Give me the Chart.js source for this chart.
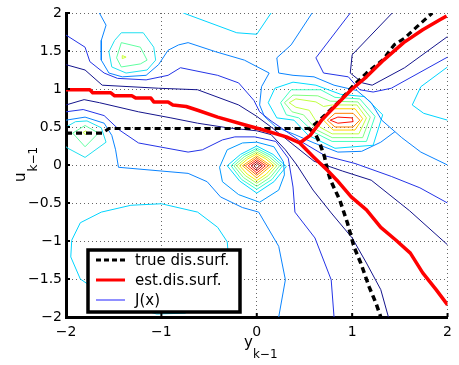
<!DOCTYPE html>
<html>
<head>
<meta charset="utf-8">
<script src="https://cdn.jsdelivr.net/npm/chart.js@4.4.1/dist/chart.umd.min.js"></script>
<style>
  html, body { margin: 0; padding: 0; background: #fff; }
  #wrap { width: 459px; height: 365px; }
</style>
</head>
<body>
<div id="wrap"><canvas id="chart" width="459" height="365"></canvas></div>
<script>
// ---- axis ticks ----
const xTickValues = [-2, -1, 0, 1, 2];
const yTickValues = [-2, -1.5, -1, -0.5, 0, 0.5, 1, 1.5, 2];

// ---- true discontinuity surface (dashed black) ----
const trueSurfUpper = [[-2, 0.42], [-1.62, 0.42], [-1.55, 0.48], [0.55, 0.48], [0.64, 0.57], [0.86, 0.83],
  [1.0, 1.03], [1.15, 1.21], [1.32, 1.38], [1.44, 1.58], [1.55, 1.67], [1.68, 1.82], [1.84, 2.0]];
const trueSurfLower = [[0.55, 0.48], [0.61, 0.42], [0.66, 0.29], [0.71, 0.11], [0.74, -0.07], [0.78, -0.22],
  [0.87, -0.46], [0.95, -0.76], [1.02, -1.08], [1.09, -1.29], [1.18, -1.61], [1.25, -1.82], [1.30, -2.0]];

// ---- estimated discontinuity surface (red) ----
const estSurfMain = [[-2, 0.99], [-1.75, 0.99], [-1.72, 0.95], [-1.53, 0.95], [-1.49, 0.91], [-1.31, 0.91],
  [-1.27, 0.88], [-1.11, 0.88], [-1.08, 0.83], [-0.93, 0.83], [-0.88, 0.79], [-0.74, 0.77], [-0.62, 0.72],
  [-0.41, 0.63], [-0.13, 0.53], [0.07, 0.46], [0.31, 0.37], [0.45, 0.29], [0.6, 0.1], [0.74, -0.07],
  [0.84, -0.2], [0.99, -0.42], [1.15, -0.59], [1.3, -0.82], [1.46, -0.99], [1.61, -1.16], [1.74, -1.42],
  [1.88, -1.64], [2.0, -1.84]];
const estSurfBranch = [[0.45, 0.29], [0.56, 0.39], [0.68, 0.59], [0.81, 0.76], [0.99, 0.99], [1.15, 1.16],
  [1.33, 1.38], [1.54, 1.61], [1.74, 1.78], [1.92, 1.91], [1.99, 1.96]];

// ---- J(x) contour lines ----
// peak at (0, 0)
const peakA1 = [[-0.03, -0.01], [0, 0.02], [0.03, -0.01], [0, -0.045], [-0.03, -0.01]];
const peakA2 = [[-0.06, -0.01], [0, 0.045], [0.06, -0.01], [0, -0.075], [-0.06, -0.01]];
const peakA3 = [[-0.09, -0.01], [0, 0.07], [0.09, -0.01], [0, -0.105], [-0.09, -0.01]];
const peakA4 = [[-0.12, -0.01], [0, 0.095], [0.12, -0.01], [0, -0.135], [-0.12, -0.01]];
const peakA5 = [[-0.15, -0.01], [0, 0.12], [0.15, -0.01], [0, -0.17], [-0.15, -0.01]];
const peakA6 = [[-0.18, -0.01], [-0.095, 0.08], [0, 0.145], [0.095, 0.08], [0.18, -0.01], [0.1, -0.12], [0, -0.205], [-0.1, -0.12], [-0.18, -0.01]];
const peakA7 = [[-0.21, -0.01], [-0.11, 0.095], [0, 0.17], [0.11, 0.095], [0.21, -0.01], [0.12, -0.14], [0, -0.24], [-0.12, -0.14], [-0.21, -0.01]];
const peakA8 = [[-0.24, -0.01], [-0.13, 0.11], [0, 0.195], [0.13, 0.11], [0.24, -0.01], [0.14, -0.165], [0, -0.28], [-0.14, -0.165], [-0.24, -0.01]];
const peakA9 = [[-0.27, -0.01], [-0.15, 0.125], [0, 0.22], [0.15, 0.125], [0.27, -0.01], [0.16, -0.19], [0, -0.32], [-0.16, -0.19], [-0.27, -0.01]];
const peakA10 = [[-0.31, -0.01], [-0.17, 0.14], [0, 0.25], [0.17, 0.14], [0.31, -0.02], [0.18, -0.22], [0, -0.37], [-0.18, -0.21], [-0.31, -0.01]];
const peakA11 = [[-0.39, -0.03], [-0.31, 0.2], [-0.15, 0.29], [0, 0.3], [0.18, 0.24], [0.28, 0.04], [0.29, -0.13],
  [0.23, -0.33], [0.03, -0.49], [-0.19, -0.39], [-0.36, -0.22], [-0.39, -0.03]];

// peak at (0.9, 0.6)
const peakB1 = [[0.77, 0.59], [0.85, 0.63], [1.0, 0.62], [1.01, 0.57], [0.85, 0.55], [0.77, 0.59]];
const peakB2 = [[0.74, 0.59], [0.82, 0.68], [1.01, 0.68], [1.08, 0.59], [1.01, 0.5], [0.82, 0.5], [0.74, 0.59]];
const peakB3 = [[0.70, 0.59], [0.80, 0.74], [1.03, 0.74], [1.11, 0.61], [1.03, 0.46], [0.80, 0.46], [0.70, 0.59]];
const peakB4 = [[0.34, 0.82], [0.41, 0.87], [0.62, 0.83], [0.70, 0.77], [0.79, 0.79], [1.05, 0.79], [1.15, 0.62],
  [1.07, 0.41], [0.79, 0.41], [0.66, 0.5], [0.55, 0.72], [0.41, 0.76], [0.34, 0.82]];
const peakB5 = [[0.29, 0.82], [0.38, 0.92], [0.64, 0.91], [0.77, 0.84], [1.06, 0.83], [1.19, 0.63], [1.11, 0.36],
  [0.79, 0.36], [0.63, 0.46], [0.49, 0.66], [0.37, 0.70], [0.29, 0.82]];
const peakB6 = [[0.25, 0.82], [0.36, 0.99], [0.67, 0.99], [0.82, 0.89], [1.08, 0.87], [1.24, 0.64], [1.15, 0.31],
  [0.79, 0.31], [0.60, 0.43], [0.44, 0.62], [0.31, 0.66], [0.25, 0.82]];
const peakB7 = [[0.12, 0.82], [0.19, 1.01], [0.38, 1.09], [0.62, 1.05], [0.88, 0.93], [1.13, 0.9], [1.32, 0.66],
  [1.22, 0.26], [0.82, 0.22], [0.54, 0.39], [0.39, 0.59], [0.21, 0.62], [0.12, 0.82]];

// peak at (-1.4, 1.42)
const peakC1 = [[-1.41, 1.44], [-1.37, 1.42], [-1.41, 1.40], [-1.41, 1.44]];
const peakC2 = [[-1.42, 1.61], [-1.22, 1.55], [-1.15, 1.38], [-1.22, 1.33], [-1.42, 1.29], [-1.47, 1.41], [-1.42, 1.61]];
const peakC3 = [[-1.42, 1.74], [-1.19, 1.74], [-1.08, 1.55], [-1.06, 1.38], [-1.15, 1.25], [-1.37, 1.21],
  [-1.52, 1.29], [-1.55, 1.49], [-1.49, 1.64], [-1.42, 1.74]];

// peak at (-1.8, 0.42)
const peakD1 = [[-1.82, 0.43], [-1.79, 0.45], [-1.77, 0.42], [-1.8, 0.40], [-1.82, 0.43]];
const peakD2 = [[-1.93, 0.42], [-1.8, 0.52], [-1.66, 0.42], [-1.8, 0.24], [-1.93, 0.42]];
const peakD3 = [[-2, 0.5], [-1.9, 0.57], [-1.78, 0.58], [-1.63, 0.49], [-1.58, 0.3], [-1.8, 0.1], [-1.98, 0.22], [-2, 0.24]];

// open contour lines
const navyTop = [[-2, 1.32], [-1.8, 1.25], [-1.62, 1.05], [-1.03, 1.01], [-0.62, 0.99], [-0.19, 0.79], [0, 0.64],
  [0.15, 0.5], [0.4, 0.25], [0.6, 0.05], [0.9, -0.08], [1.2, -0.2], [1.6, -0.6], [2, -1.05]];
const navyMid = [[-2, 0.79], [-1.81, 0.86], [-1.65, 0.82], [-1.24, 0.70], [-0.9, 0.62], [-0.62, 0.55], [-0.31, 0.49],
  [0, 0.45], [0.15, 0.4], [0.3, 0.2], [0.42, 0.0], [0.59, -0.33], [0.78, -0.63], [1.0, -0.96], [1.15, -1.29],
  [1.3, -1.64], [1.38, -2]];
const navyRight = [[1.42, 2.0], [1.0, 1.45], [0.98, 1.21], [1.11, 1.08], [1.21, 1.05], [1.55, 1.28], [2, 1.69]];
const blueTop = [[-2, 1.71], [-1.8, 1.55], [-1.75, 1.36], [-1.6, 1.21], [-1.46, 1.14], [-1.16, 1.12], [-0.93, 1.18],
  [-0.8, 1.28], [-0.41, 1.18], [-0.19, 1.08], [-0.03, 0.85], [0.03, 0.7], [0.15, 0.58], [0.45, 0.32], [0.72, 0.12],
  [1.03, 0.02], [1.41, -0.15], [1.71, -0.3], [2, -0.5]];
const blueLow = [[-2, 0.70], [-1.82, 0.73], [-1.6, 0.65], [-1.44, 0.46], [-1.24, 0.29], [-0.72, 0.17], [-0.57, 0.2],
  [-0.36, 0.33], [-0.23, 0.37], [-0.02, 0.37], [0.2, 0.31], [0.33, 0.09], [0.38, -0.29], [0.40, -0.62],
  [0.61, -0.96], [0.78, -1.51], [0.81, -2]];
const blueRight = [[0.98, 2.0], [0.62, 1.41], [0.7, 1.21], [0.96, 1.16], [1.08, 0.99], [1.22, 0.96], [1.41, 1.01], [2, 1.42]];
const lightBlueTop = [[-1.65, 2.0], [-1.58, 1.84], [-1.63, 1.64], [-1.63, 1.38], [-1.55, 1.21], [-1.41, 1.16],
  [-1.16, 1.18], [-1.03, 1.32], [-0.93, 1.51], [-0.82, 1.58], [-0.72, 1.61], [-0.43, 1.49], [-0.13, 1.38],
  [0.13, 1.21], [0.05, 1.03], [0.03, 0.79], [0.08, 0.64], [0.2, 0.5], [0.4, 0.4], [0.6, 0.29], [0.85, 0.17],
  [1.1, 0.18], [1.3, 0.3], [1.45, 0.44]];
const lightBlueRight = [[0.58, 2.0], [0.36, 1.58], [0.21, 1.41], [0.23, 1.21], [0.38, 1.18], [0.6, 1.16],
  [0.81, 1.05], [1.05, 0.98], [1.2, 0.82], [1.31, 0.59], [1.52, 0.36], [1.72, 0.17], [2, 0.0]];
const lightBlueLow = [[-2, 0.59], [-1.8, 0.63], [-1.6, 0.55], [-1.52, 0.39], [-1.48, 0.2], [-1.45, -0.03],
  [-0.72, -0.11], [-0.52, -0.22], [-0.38, -0.42], [-0.15, -0.56], [0.02, -0.62], [0.23, -1.07], [0.30, -1.51], [0.23, -2]];
const cyanTop = [[-0.77, 2.0], [-0.21, 1.74], [0, 1.72], [0.15, 2.0]];
const cyanRight = [[2, 1.29], [1.72, 1.03], [1.63, 0.79], [1.75, 0.68], [2, 0.59]];
const cyanLoop = [[-1.95, -1.21], [-1.94, -0.99], [-1.85, -0.76], [-1.63, -0.62], [-1.32, -0.53], [-1.0, -0.51],
  [-0.62, -0.62], [-0.41, -0.82], [-0.31, -1.01], [-0.29, -1.3], [-0.42, -1.62], [-0.75, -1.95], [-1.05, -1.96],
  [-1.5, -1.8], [-1.85, -1.5], [-1.95, -1.21]];

// ---- styles ----
const NAVY = '#14148c', BLUE = '#2434e6', LBLUE = '#0a84ff', CYAN = '#00d4ff';
const contourLines = [
  [navyTop, NAVY], [navyMid, NAVY], [navyRight, NAVY],
  [blueTop, BLUE], [blueLow, BLUE], [blueRight, BLUE],
  [lightBlueTop, LBLUE], [lightBlueRight, LBLUE], [lightBlueLow, LBLUE],
  [cyanTop, CYAN], [cyanRight, CYAN], [cyanLoop, CYAN],
  [peakA11, '#0098ff'], [peakA10, '#00d8ff'], [peakA9, '#30ffd0'], [peakA8, '#70ff90'], [peakA7, '#b0ff50'],
  [peakA6, '#f0f000'], [peakA5, '#ffb000'], [peakA4, '#ff7000'], [peakA3, '#ff2000'], [peakA2, '#d00000'], [peakA1, '#880000'],
  [peakB7, '#00dcff'], [peakB6, '#40ffc0'], [peakB5, '#80ff80'], [peakB4, '#c0ff40'], [peakB3, '#ffd000'],
  [peakB2, '#ff8000'], [peakB1, '#ff1000'],
  [peakC3, '#20e0f0'], [peakC2, '#60ffa0'], [peakC1, '#c8ff38'],
  [peakD3, '#20e0f0'], [peakD2, '#60ffa0'], [peakD1, '#c8ff38']
];

const toXY = pts => pts.map(([x, y]) => ({ x, y }));
const fmt = v => (v === 0 ? '0' : (v < 0 ? '\u2212' : '') + Math.abs(v));

const datasets = contourLines.map(([pts, color]) => ({
  data: toXY(pts), borderColor: color, borderWidth: 1, order: 2
}));
datasets.push({ data: toXY(trueSurfUpper), borderColor: '#000', borderWidth: 3.2, borderDash: [6, 4], order: 1 });
datasets.push({ data: toXY(trueSurfLower), borderColor: '#000', borderWidth: 3.5, borderDash: [6, 4], order: 1 });
datasets.push({ data: toXY(estSurfMain), borderColor: '#ff0000', borderWidth: 3.5, order: 0 });
datasets.push({ data: toXY(estSurfBranch), borderColor: '#ff0000', borderWidth: 3.5, order: 0 });

const legendItems = [
  { label: 'true dis.surf.', color: '#000', dash: [5, 3], width: 3 },
  { label: 'est.dis.surf.', color: '#ff0000', dash: [], width: 3 },
  { label: 'J(x)', color: '#6b6bff', dash: [], width: 1.5 }
];

// draws axes decorations, titles and the boxed legend
const decorations = {
  id: 'decorations',
  afterDraw(chart) {
    const { ctx, chartArea: a, scales } = chart;
    ctx.save();
    // inner tick marks
    ctx.strokeStyle = '#000';
    ctx.lineWidth = 2;
    xTickValues.forEach(v => {
      const px = scales.x.getPixelForValue(v);
      ctx.beginPath(); ctx.moveTo(px, a.bottom); ctx.lineTo(px, a.bottom - 4); ctx.stroke();
    });
    yTickValues.forEach(v => {
      const py = scales.y.getPixelForValue(v);
      ctx.beginPath(); ctx.moveTo(a.left, py); ctx.lineTo(a.left + 4, py); ctx.stroke();
    });

    // axis titles with subscripts
    ctx.fillStyle = '#000';
    ctx.textBaseline = 'alphabetic';
    ctx.textAlign = 'left';
    ctx.font = '15px "DejaVu Sans"';
    const yw = ctx.measureText('y').width;
    ctx.fillText('y', 244, 347);
    ctx.font = '12px "DejaVu Sans"';
    ctx.fillText('k\u22121', 244 + yw, 358);

    ctx.save();
    ctx.translate(25, 182);
    ctx.rotate(-Math.PI / 2);
    ctx.font = '15px "DejaVu Sans"';
    const uw = ctx.measureText('u').width;
    ctx.fillText('u', 0, 0);
    ctx.font = '12px "DejaVu Sans"';
    ctx.fillText('k\u22121', uw + 1, 12);
    ctx.restore();

    // legend box
    const box = { x: 88, y: 250, w: 152, h: 62 };
    ctx.fillStyle = '#fff';
    ctx.fillRect(box.x, box.y, box.w, box.h);
    ctx.lineWidth = 3.5;
    ctx.strokeStyle = '#000';
    ctx.strokeRect(box.x, box.y, box.w, box.h);
    ctx.font = '15px "DejaVu Sans"';
    ctx.textBaseline = 'middle';
    legendItems.forEach((it, i) => {
      const ly = 260 + i * 20;
      ctx.beginPath();
      ctx.setLineDash(it.dash);
      ctx.lineWidth = it.width;
      ctx.strokeStyle = it.color;
      ctx.moveTo(96, ly); ctx.lineTo(125, ly);
      ctx.stroke();
      ctx.setLineDash([]);
      ctx.fillStyle = '#000';
      ctx.fillText(it.label, 135, ly + 1);
    });
    ctx.restore();
  }
};

Chart.defaults.font.family = '"DejaVu Sans", sans-serif';

new Chart(document.getElementById('chart'), {
  type: 'scatter',
  data: { datasets },
  options: {
    responsive: false,
    animation: false,
    devicePixelRatio: 1,
    showLine: true,
    layout: { padding: { top: 13, right: 5, left: 0, bottom: 0 } },
    elements: {
      point: { radius: 0, hoverRadius: 0 },
      line: { tension: 0, fill: false, borderCapStyle: 'butt', borderJoinStyle: 'round' }
    },
    plugins: { legend: { display: false }, tooltip: { enabled: false } },
    scales: {
      x: {
        type: 'linear', min: -2, max: 2,
        afterBuildTicks: s => { s.ticks = xTickValues.map(v => ({ value: v })); },
        afterFit: s => { s.height = 48; },
        ticks: { color: '#000', font: { size: 14 }, padding: 7, maxRotation: 0, callback: fmt },
        grid: { color: '#666', lineWidth: 1, drawTicks: false },
        border: { display: true, color: '#000', width: 3, dash: [1, 3] }
      },
      y: {
        type: 'linear', min: -2, max: 2,
        afterBuildTicks: s => { s.ticks = yTickValues.map(v => ({ value: v })); },
        afterFit: s => { s.width = 66; },
        ticks: { color: '#000', font: { size: 14 }, padding: 4, callback: fmt },
        grid: { color: '#666', lineWidth: 1, drawTicks: false },
        border: { display: true, color: '#000', width: 3, dash: [1, 3] }
      }
    }
  },
  plugins: [decorations]
});
</script>
</body>
</html>
